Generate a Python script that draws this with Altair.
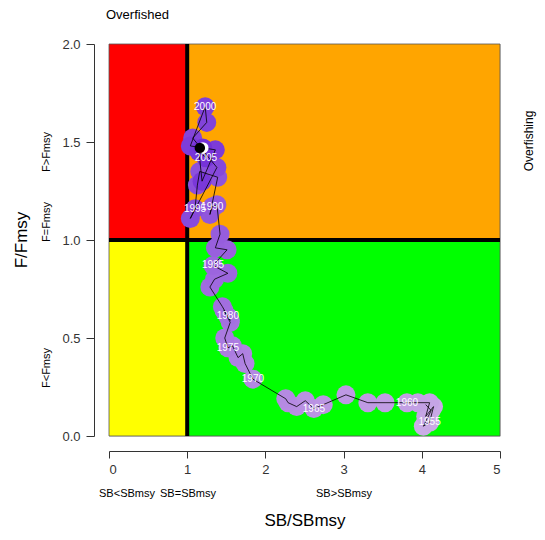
import altair as alt
import pandas as pd

years = list(range(1952, 2007))
sb = [4.05, 4.12, 4.02, 4.10, 4.15, 4.05, 4.10, 3.95, 3.81,
      3.53, 3.31, 3.03, 2.74, 2.62, 2.51, 2.40, 2.29, 2.26, 1.84,
      1.74, 1.71, 1.65, 1.58, 1.52, 1.48, 1.55, 1.47, 1.55, 1.52,
      1.45, 1.29, 1.35, 1.52, 1.33, 1.51, 1.36, 1.42, 1.38, 1.32,
      1.29, 1.39, 1.16, 1.13, 1.10, 1.04, 1.38, 1.07, 1.25, 1.23,
      1.04, 1.36, 1.19, 1.15, 1.24, 1.20]
ff = [0.16, 0.13, 0.05, 0.07, 0.15, 0.10, 0.17, 0.17, 0.17,
      0.17, 0.17, 0.21, 0.16, 0.14, 0.18, 0.15, 0.17, 0.19, 0.29,
      0.37, 0.42, 0.40, 0.46, 0.45, 0.50, 0.58, 0.64, 0.59, 0.61,
      0.66, 0.76, 0.80, 0.83, 0.87, 0.95, 0.96, 1.03, 1.18, 1.17,
      1.13, 1.32, 1.35, 1.28, 1.16, 1.11, 1.37, 1.52, 1.60, 1.68,
      1.48, 1.46, 1.30, 1.45, 1.42, 1.47]

quad_x = [0, 1, 0, 1]
quad_x2 = [1, 5, 1, 5]
quad_y = [1, 1, 0, 0]
quad_y2 = [2, 2, 1, 1]
quad_col = ["#FF0000", "#FFA500", "#FFFF00", "#00FF00"]

x_ticks = [0, 1, 2, 3, 4, 5]
y_ticks = [0.0, 0.5, 1.0, 1.5, 2.0]

df = pd.DataFrame({"year": years, "sb": sb, "f": ff})
lab = df[df["year"] % 5 == 0]
last = df.tail(1)
quads = pd.DataFrame({"x": quad_x, "x2": quad_x2, "y": quad_y, "y2": quad_y2, "c": quad_col})

xs = alt.Scale(domain=[0, 5], nice=False, zero=False)
ys = alt.Scale(domain=[0, 2], nice=False, zero=False)
FONT = "Liberation Sans"

xaxis = alt.Axis(values=x_ticks, title=None, grid=False, offset=15, tickSize=7,
                 labelPadding=5, labelFontSize=13, labelColor="#333", domainColor="#333",
                 tickColor="#333", labelFont=FONT, format="d")
yaxis = alt.Axis(values=y_ticks, title=None, grid=False, offset=15, tickSize=8,
                 labelPadding=6, labelFontSize=13, labelColor="#333", domainColor="#333",
                 tickColor="#333", labelFont=FONT, format=".1f")

bg = alt.Chart(quads).mark_rect(stroke="#555", strokeWidth=0.8).encode(
    x=alt.X("x:Q", scale=xs, axis=xaxis), x2="x2",
    y=alt.Y("y:Q", scale=ys, axis=yaxis), y2="y2",
    color=alt.Color("c:N", scale=None),
)

vline = alt.Chart(pd.DataFrame({"x": [1]})).mark_rule(color="black", strokeWidth=4).encode(
    x=alt.X("x:Q", scale=xs), y=alt.value(0), y2=alt.value(392))
hline = alt.Chart(pd.DataFrame({"y": [1]})).mark_rule(color="black", strokeWidth=4).encode(
    y=alt.Y("y:Q", scale=ys), x=alt.value(0), x2=alt.value(391))

pts = alt.Chart(df).mark_circle(size=360, opacity=1).encode(
    x=alt.X("sb:Q", scale=xs), y=alt.Y("f:Q", scale=ys),
    color=alt.Color("year:Q", scale=alt.Scale(domain=[1952, 2006], range=["#CDB2E6", "#7430D8"]), legend=None),
)
line = alt.Chart(df).mark_line(color="black", strokeWidth=0.8).encode(
    x=alt.X("sb:Q", scale=xs), y=alt.Y("f:Q", scale=ys), order="year:Q")
labels = alt.Chart(lab).mark_text(color="white", fontSize=10, font=FONT).encode(
    x=alt.X("sb:Q", scale=xs), y=alt.Y("f:Q", scale=ys), text="year:N")
endw = alt.Chart(last).mark_circle(size=130, color="white", opacity=1).encode(
    x=alt.X("sb:Q", scale=xs), y=alt.Y("f:Q", scale=ys))
endb = alt.Chart(last).mark_circle(size=110, color="black", opacity=1, xOffset=-3).encode(
    x=alt.X("sb:Q", scale=xs), y=alt.Y("f:Q", scale=ys))

def txt(s, x, y, size=11, angle=0, align="center"):
    return alt.Chart(pd.DataFrame({"t": [s]})).mark_text(
        fontSize=size, font=FONT, color="black", angle=angle, align=align, baseline="middle"
    ).encode(text="t:N", x=alt.value(x), y=alt.value(y))

annots = [
    txt("Overfished", -3, -29, 13, align="left"),
    txt("Overfishing", 420, 97, 12, angle=270),
    txt("F>Fmsy", -62, 108, 11, angle=270),
    txt("F=Fmsy", -62, 178, 11, angle=270),
    txt("F<Fmsy", -62, 324, 11, angle=270),
    txt("SB<SBmsy", 18, 450, 11),
    txt("SB=SBmsy", 79, 450, 11),
    txt("SB>SBmsy", 235, 450, 11),
    txt("SB/SBmsy", 196, 477, 17),
    txt("F/Fmsy", -87, 196, 17, angle=270),
]

chart = alt.layer(bg, vline, hline, pts, line, labels, endw, endb, *annots).properties(
    width=391, height=392,
    autosize=alt.AutoSizeParams(type="none"),
    padding={"left": 101, "top": 36, "right": 37, "bottom": 96},
).configure_view(stroke=None).configure(background="white")

chart.save("out.html", embed_options={"renderer": "svg", "actions": False})
